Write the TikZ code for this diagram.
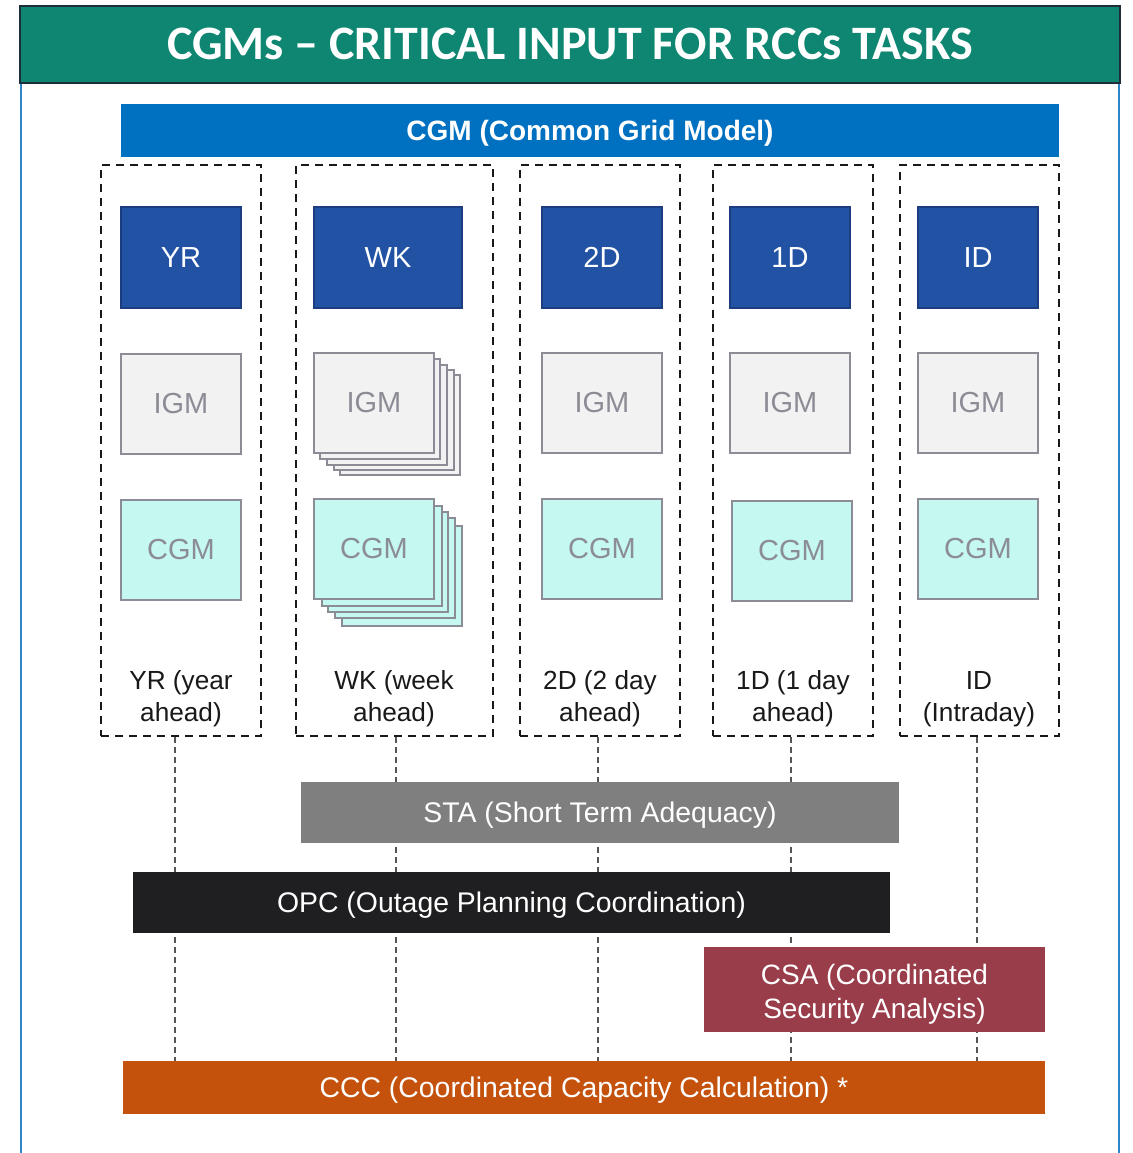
\documentclass[tikz,border=0pt]{standalone}
\usepackage{fontspec}
\setmainfont{Liberation Sans}
\newfontfamily\titlefont{Carlito}
\definecolor{teal1}{HTML}{0E8672}
\definecolor{hdrborder}{HTML}{1E2D3A}
\definecolor{sideblue}{HTML}{2E86C9}
\definecolor{cgmblue}{HTML}{0070C0}
\definecolor{tbfill}{HTML}{2152A3}
\definecolor{tbdraw}{HTML}{1C3E80}
\definecolor{igmfill}{HTML}{F2F2F2}
\definecolor{boxgray}{HTML}{8C8C96}
\definecolor{cgmfill}{HTML}{C4F8F0}
\definecolor{stagray}{HTML}{7F7F7F}
\definecolor{opcblack}{HTML}{1F1F21}
\definecolor{csared}{HTML}{9A3D4A}
\definecolor{cccorange}{HTML}{C4520C}
\definecolor{conngray}{HTML}{555555}
\begin{document}
\begin{tikzpicture}[x=0.5pt,y=-0.5pt,
  timebox/.style={draw=tbdraw,line width=1pt,fill=tbfill,text=white,font=\fontsize{14.5}{16}\selectfont,minimum height=50.5pt,inner sep=0pt},
  igmbox/.style={draw=boxgray,line width=1pt,fill=igmfill,text=boxgray,font=\fontsize{14.5}{16}\selectfont,minimum width=60pt,minimum height=50pt,inner sep=0pt},
  cgmbox/.style={draw=boxgray,line width=1pt,fill=cgmfill,text=boxgray,font=\fontsize{14.5}{16}\selectfont,minimum width=60pt,minimum height=50pt,inner sep=0pt},
  column/.style={draw=black!90,line width=1.1pt,dash pattern=on 4pt off 3pt,minimum height=285.5pt,inner sep=0pt},
  collabel/.style={align=center,font=\fontsize{13.1}{16}\selectfont,text=black!90,inner sep=0pt},
  bar/.style={text=white,font=\fontsize{14.2}{17}\selectfont,inner sep=0pt,align=center,text height=10.2pt,text depth=0pt},
  conn/.style={draw=conngray,line width=0.55pt,dash pattern=on 3pt off 2pt}
]
\useasboundingbox (0,0) rectangle (1133,1153);
\fill[white] (0,0) rectangle (1133,1153);
% side lines
\draw[sideblue,line width=1pt] (21,83) -- (21,1153) (1119,83) -- (1119,1153);
% header
\node[draw=hdrborder,line width=1pt,fill=teal1,minimum width=550pt,minimum height=38.5pt,inner sep=0pt,
  text height=15.4pt,text depth=0pt,
  text=white,font=\titlefont\bfseries\fontsize{24}{28}\selectfont] (title) at (570,44.5) {CGMs – CRITICAL INPUT FOR RCCs TASKS};
% CGM bar
\node[bar,fill=cgmblue,minimum width=469pt,minimum height=26.5pt,text height=10pt,font=\bfseries\fontsize{14}{16}\selectfont] (cgmbar) at (590,130.5) {CGM (Common Grid Model)};
% columns
\node[column,minimum width=80pt] (c1) at (181,450.5) {};
\node[column,minimum width=98.5pt] (c2) at (394.5,450.5) {};
\node[column,minimum width=80pt] (c3) at (600,450.5) {};
\node[column,minimum width=80pt] (c4) at (793,450.5) {};
\node[column,minimum width=79.5pt] (c5) at (979.5,450.5) {};
% time boxes
\node[timebox,minimum width=60pt] (yr) at (181,257.5) {YR};
\node[timebox,minimum width=74pt] (wk) at (388,257.5) {WK};
\node[timebox,minimum width=60pt] (d2) at (602,257.5) {2D};
\node[timebox,minimum width=60pt] (d1) at (790,257.5) {1D};
\node[timebox,minimum width=60pt] (id) at (978,257.5) {ID};
% IGM boxes
\node[igmbox] (igm1) at (181,404) {IGM};
\node[igmbox] (igm2d) at (400,425) {};
\node[igmbox] (igm2c) at (394,420) {};
\node[igmbox] (igm2b) at (387,415) {};
\node[igmbox] (igm2a) at (380,409) {};
\node[igmbox] (igm2) at (374,403) {IGM};
\node[igmbox] (igm3) at (602,403) {IGM};
\node[igmbox] (igm4) at (790,403) {IGM};
\node[igmbox] (igm5) at (978,403) {IGM};
% CGM boxes
\node[cgmbox] (cgm1) at (181,550) {CGM};
\node[cgmbox] (cgm2d) at (402,576) {};
\node[cgmbox] (cgm2c) at (395,568) {};
\node[cgmbox] (cgm2b) at (388,562) {};
\node[cgmbox] (cgm2a) at (382,556) {};
\node[cgmbox] (cgm2) at (374,549) {CGM};
\node[cgmbox] (cgm3) at (602,549) {CGM};
\node[cgmbox] (cgm4) at (792,551) {CGM};
\node[cgmbox] (cgm5) at (978,549) {CGM};
% column labels
\node[collabel] (l1) at (181,699) {YR (year\\ahead)};
\node[collabel] (l2) at (394,699) {WK (week\\ahead)};
\node[collabel] (l3) at (600,699) {2D (2 day\\ahead)};
\node[collabel] (l4) at (793,699) {1D (1 day\\ahead)};
\node[collabel] (l5) at (979,699) {ID\\(Intraday)};
% bottom bars (positions)
\coordinate (cccN) at (584,1061);
% connectors
\draw[conn] ([xshift=-3pt]c1.south) -- ([xshift=-3pt]c1.south |- cccN);
\draw[conn] ([xshift=0.75pt]c2.south) -- ([xshift=0.75pt]c2.south |- cccN);
\draw[conn] ([xshift=-1pt]c3.south) -- ([xshift=-1pt]c3.south |- cccN);
\draw[conn] ([xshift=-1pt]c4.south) -- ([xshift=-1pt]c4.south |- cccN);
\draw[conn] ([xshift=-1.25pt]c5.south) -- ([xshift=-1.25pt]c5.south |- cccN);
% bars
\node[bar,fill=stagray,minimum width=299pt,minimum height=30.5pt] (sta) at (600,812.5) {STA (Short Term Adequacy)};
\node[bar,fill=opcblack,minimum width=378.5pt,minimum height=30.5pt] (opc) at (511.5,902.5) {OPC (Outage Planning Coordination)};
\node[fill=csared,minimum width=170.5pt,minimum height=42.5pt,inner sep=0pt] (csa) at (874.5,989.5) {};
\node[text=white,font=\fontsize{14}{17}\selectfont,inner sep=0pt,align=center] (csatext) at (874.5,994) {CSA (Coordinated\\Security Analysis)};
\node[bar,fill=cccorange,minimum width=461pt,minimum height=26.5pt] (ccc) at (584,1087.5) {CCC (Coordinated Capacity Calculation) *};
\end{tikzpicture}
\end{document}
